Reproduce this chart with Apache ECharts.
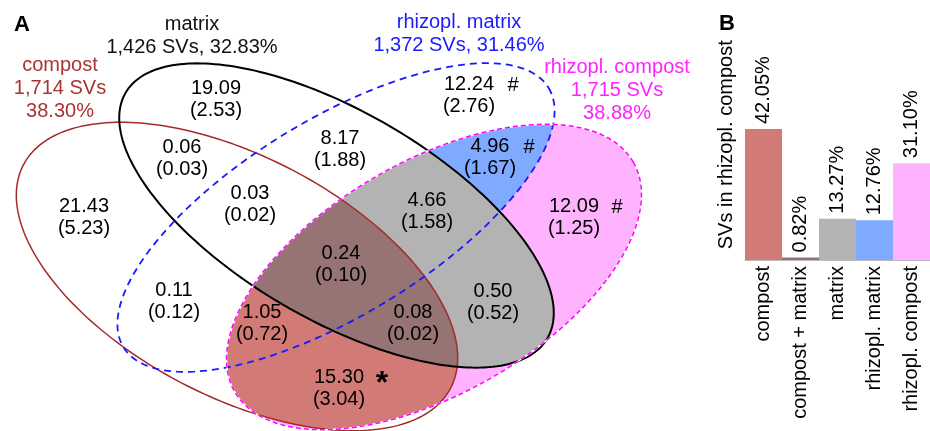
<!DOCTYPE html>
<html>
<head>
<meta charset="utf-8">
<script src="https://cdn.jsdelivr.net/npm/echarts@6/dist/echarts.min.js"></script>
<style>
  html, body { margin: 0; padding: 0; background: #fff; }
  #chart { width: 930px; height: 431px; }
</style>
</head>
<body>
<div id="chart"></div>
<script>
// ---- panel A: sets ----
const setNames = ['compost', 'matrix', 'rhizopl. matrix', 'rhizopl. compost']
const setCounts = ['1,714 SVs', '1,426 SVs', '1,372 SVs', '1,715 SVs']
const setShares = ['38.30%', '32.83%', '31.46%', '38.88%']

// region values: % of SVs (sd)
const regionPct = ['21.43', '19.09', '0.06', '0.03', '8.17', '12.24', '4.96', '4.66', '12.09', '0.24', '0.11', '1.05', '0.08', '0.50', '15.30']
const regionSd = ['5.23', '2.53', '0.03', '0.02', '1.88', '2.76', '1.67', '1.58', '1.25', '0.10', '0.12', '0.72', '0.02', '0.52', '3.04']
const markText = ['#', '#', '#', '*']

// ---- panel B: bars ----
const barCats = ['compost', 'compost + matrix', 'matrix', 'rhizopl. matrix', 'rhizopl. compost']
const barValues = [42.05, 0.82, 13.27, 12.76, 31.10]

// ---- layout (venn space = 700 x 431) ----
const ellipseCx = [237, 336.5, 336, 434]
const ellipseCy = [276.5, 215.5, 217.5, 277]
const ellipseRx = [241, 244, 249, 230]
const ellipseRy = [120, 104, 98, 116]
const ellipseAngle = [27.6, 30.2, -31.4, -30]

const regionPos = [[84, 217], [216, 99], [182, 158], [250, 204], [340, 149], [469, 95], [490, 157], [427, 211],
  [574, 217.5], [341, 264], [174, 301], [262, 323], [413, 323], [493, 302], [339, 388]]
const markPos = [[513, 85], [529, 147], [617, 207], [382, 384]]
const titlePos = [[60, 88.5], [192, 35.5], [459, 34], [617, 90]]
const titleSplit = [true, false, false, true]

// ---- styles ----
const FONT = '"Liberation Sans", Arial, Helvetica, sans-serif'
const titleColors = ['#aa3333', '#111111', '#1a1aff', '#ff22ff']
const outlineColor = ['#a52a2a', '#000000', '#1a1aff', '#ff00ff']
const outlineWidth = [1.5, 2, 1.8, 1.5]
const outlineDash = [null, null, [7, 5], [5, 3]]
const fillBase = 3
const fillClip = [[], [2], [1], [0], [0, 1]]
const fillColor = ['#ffb3ff', '#80aaff', '#b3b3b3', '#d27a76', '#967474']
const barColors = ['#d27a76', '#967474', '#b3b3b3', '#80aaff', '#ffb3ff']

const N = 240

const ellipsePoints = (i, api) => {
  const th = ellipseAngle[i] * Math.PI / 180
  const c = Math.cos(th), s = Math.sin(th)
  const pts = []
  for (let k = 0; k < N; k++) {
    const t = 2 * Math.PI * k / N
    const ex = ellipseRx[i] * Math.cos(t), ey = ellipseRy[i] * Math.sin(t)
    pts.push(api.coord([ellipseCx[i] + ex * c - ey * s, ellipseCy[i] + ex * s + ey * c]))
  }
  return pts
}

// Sutherland-Hodgman, clip polygon is convex
const clipPoly = (subject, clip) => {
  let area = 0
  for (let i = 0; i < clip.length; i++) {
    const a = clip[i], b = clip[(i + 1) % clip.length]
    area += a[0] * b[1] - b[0] * a[1]
  }
  const orient = area > 0 ? 1 : -1
  let out = subject
  for (let i = 0; i < clip.length && out.length; i++) {
    const A = clip[i], B = clip[(i + 1) % clip.length]
    const inside = p => orient * ((B[0] - A[0]) * (p[1] - A[1]) - (B[1] - A[1]) * (p[0] - A[0])) >= 0
    const cross = (P, Q) => {
      const d1 = [Q[0] - P[0], Q[1] - P[1]], d2 = [B[0] - A[0], B[1] - A[1]]
      const den = d1[0] * d2[1] - d1[1] * d2[0]
      const t = ((A[0] - P[0]) * d2[1] - (A[1] - P[1]) * d2[0]) / den
      return [P[0] + t * d1[0], P[1] + t * d1[1]]
    }
    const input = out
    out = []
    for (let j = 0; j < input.length; j++) {
      const cur = input[j], prev = input[(j + input.length - 1) % input.length]
      if (inside(cur)) {
        if (!inside(prev)) out.push(cross(prev, cur))
        out.push(cur)
      } else if (inside(prev)) {
        out.push(cross(prev, cur))
      }
    }
  }
  return out
}

const chart = echarts.init(document.getElementById('chart'))

const textLabel = {
  show: true, position: 'inside', formatter: p => p.name,
  fontSize: 20, lineHeight: 22, color: '#000', opacity: 1,
  textBorderWidth: 0, textShadowBlur: 0,
  align: 'center', verticalAlign: 'middle', fontFamily: FONT
}

const option = {
  animation: false,
  textStyle: { fontFamily: FONT },
  grid: [
    { left: 0, top: 0, width: 700, height: 431 },
    { left: 745, top: 29.5, bottom: 171, width: 187 }
  ],
  xAxis: [
    { gridIndex: 0, type: 'value', min: 0, max: 700, show: false },
    {
      gridIndex: 1, type: 'category', data: barCats,
      axisTick: { show: false },
      axisLine: { lineStyle: { color: '#bbbbbb', width: 1 } },
      axisLabel: { rotate: 90, interval: 0, fontSize: 20, color: '#000', margin: 6, fontFamily: FONT }
    }
  ],
  yAxis: [
    { gridIndex: 0, type: 'value', min: 0, max: 431, inverse: true, show: false },
    {
      gridIndex: 1, type: 'value', min: 0, max: 74,
      axisLine: { show: false }, axisTick: { show: false },
      axisLabel: { show: false }, splitLine: { show: false },
      name: 'SVs in rhizopl. compost', nameLocation: 'middle', nameGap: 9,
      nameTextStyle: { fontSize: 20, color: '#000', fontFamily: FONT }
    }
  ],
  graphic: [
    { type: 'text', x: 22, y: 25, style: { text: 'A', font: 'bold 22px ' + FONT, fill: '#000', align: 'center', verticalAlign: 'middle' } },
    { type: 'text', x: 727, y: 24, style: { text: 'B', font: 'bold 22px ' + FONT, fill: '#000', align: 'center', verticalAlign: 'middle' } },
    ...setNames.map((name, i) => ({
      type: 'text', x: titlePos[i][0], y: titlePos[i][1], z: 10,
      style: {
        text: titleSplit[i] ? name + '\n' + setCounts[i] + '\n' + setShares[i] : name + '\n' + setCounts[i] + ', ' + setShares[i],
        font: '20px ' + FONT, lineHeight: 23, fill: titleColors[i], align: 'center', verticalAlign: 'middle'
      }
    }))
  ],
  series: [
    {
      type: 'custom', name: 'fills', xAxisIndex: 0, yAxisIndex: 0, z: 1,
      data: fillColor.map((_, i) => [i]),
      renderItem: (params, api) => {
        const i = params.dataIndex
        let pts = ellipsePoints(fillBase, api)
        fillClip[i].forEach(k => { pts = clipPoly(pts, ellipsePoints(k, api)) })
        return { type: 'polygon', shape: { points: pts }, style: { fill: fillColor[i], stroke: null } }
      }
    },
    {
      type: 'custom', name: 'outlines', xAxisIndex: 0, yAxisIndex: 0, z: 2,
      data: setNames.map((_, i) => [i]),
      renderItem: (params, api) => {
        const i = params.dataIndex
        const pts = ellipsePoints(i, api)
        const children = []
        if (i === 3) {
          children.push({ type: 'polygon', shape: { points: pts }, style: { fill: null, stroke: '#ffffff', lineWidth: outlineWidth[i] } })
        }
        children.push({
          type: 'polygon', shape: { points: pts },
          style: { fill: null, stroke: outlineColor[i], lineWidth: outlineWidth[i], lineDash: outlineDash[i] || null }
        })
        return { type: 'group', children }
      }
    },
    {
      type: 'scatter', name: 'regions', xAxisIndex: 0, yAxisIndex: 0, z: 5,
      symbolSize: 0,
      data: regionPos.map((p, i) => ({ value: p, name: regionPct[i] + '\n(' + regionSd[i] + ')' })),
      label: textLabel,
      emphasis: { disabled: true }
    },
    {
      type: 'scatter', name: 'marks', xAxisIndex: 0, yAxisIndex: 0, z: 5,
      symbolSize: 0,
      data: markPos.map((p, i) => ({
        value: p, name: markText[i],
        label: markText[i] === '*' ? { fontSize: 32, fontWeight: 'bold' } : {}
      })),
      label: textLabel,
      emphasis: { disabled: true }
    },
    {
      type: 'bar', name: 'SVs in rhizopl. compost', xAxisIndex: 1, yAxisIndex: 1,
      barCategoryGap: '0%',
      data: barValues.map((v, i) => ({ value: v, itemStyle: { color: barColors[i] } })),
      label: {
        show: true, position: 'top', rotate: 90, align: 'left', verticalAlign: 'middle', distance: 5,
        formatter: p => p.value.toFixed(2) + '%',
        fontSize: 20, color: '#000', fontFamily: FONT
      }
    }
  ]
}

chart.setOption(option)
</script>
</body>
</html>
